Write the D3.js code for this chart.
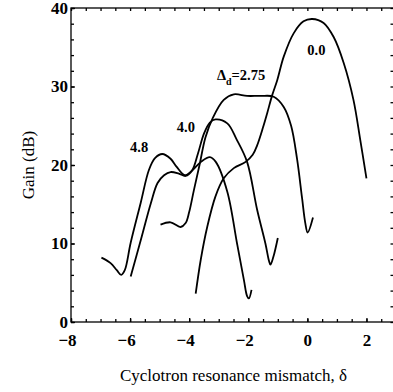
<!DOCTYPE html>
<meta charset="utf-8">
<style>
body { margin: 0; background: #fff; }
svg text { font-family: "Liberation Serif", "Times New Roman", serif; fill: #000; }
.tick text { font-weight: bold; font-size: 17px; }
.tick line, .domain { stroke: #000; stroke-width: 1.3px; }
.curve { fill: none; stroke: #000; stroke-width: 1.8px; }
.clabel { font-weight: bold; font-size: 14.5px; }
</style>
<svg width="393" height="392"></svg>
<script src="https://d3js.org/d3.v7.min.js"></script>
<script>
var svg = d3.select("svg");
var serif = "Liberation Serif, Times New Roman, serif";

// gain vs. mismatch, one array per Delta_d value  [delta, gain]
var curve48 = [[-6.97,8.2],[-6.66,7.5],[-6.45,6.6],[-6.3,6.0],[-6.18,6.6],[-5.98,10.1],[-5.64,15.2],
  [-5.36,19.4],[-5.15,20.9],[-4.91,21.4],[-4.63,20.8],[-4.43,19.8],[-4.15,18.7],[-3.9,19.3],
  [-3.6,20.4],[-3.3,21.0],[-3.1,20.4],[-2.71,16.6],[-2.38,10.0],[-2.15,5.4],[-2.04,3.3],
  [-1.98,3.0],[-1.89,4.1]];
var curve40 = [[-5.98,5.8],[-5.64,10.4],[-5.3,15.1],[-5.07,17.7],[-4.85,18.7],[-4.63,19.1],
  [-4.35,18.9],[-4.12,18.6],[-3.9,19.3],[-3.7,21.5],[-3.5,24.0],[-3.3,25.4],[-3.11,25.8],
  [-2.71,25.3],[-2.4,23.3],[-2.04,20.4],[-1.7,14.3],[-1.42,10.0],[-1.3,7.8],[-1.25,7.3],
  [-1.15,8.3],[-1.0,10.7]];
var curve275 = [[-4.97,12.4],[-4.63,12.7],[-4.29,12.1],[-4.12,12.6],[-4.0,14.0],[-3.84,16.8],
  [-3.65,20.0],[-3.45,23.5],[-3.2,26.0],[-2.83,28.3],[-2.49,29.0],[-2.04,28.8],[-1.59,28.8],
  [-1.14,28.7],[-0.8,27.4],[-0.55,25.0],[-0.35,20.8],[-0.18,15.8],[-0.07,12.6],[0.01,11.4],
  [0.19,13.3]];
var curve00 = [[-3.78,3.6],[-3.61,7.9],[-3.39,12.1],[-3.11,16.0],[-2.83,18.3],[-2.49,19.6],
  [-2.09,20.4],[-1.85,21.3],[-1.7,22.5],[-1.5,24.8],[-1.36,26.6],[-1.19,28.9],[-1.02,30.8],
  [-0.8,33.8],[-0.46,36.8],[-0.13,38.3],[0.16,38.6],[0.55,38.1],[0.89,36.3],[1.23,33.0],
  [1.56,28.3],[1.79,23.2],[2.0,18.3]];

var xTicks = [-8, -6, -4, -2, 0, 2];
var yTicks = [0, 10, 20, 30, 40];
var xMinor = d3.range(-8, 3.01, 0.5);
var yMinor = d3.range(0, 40.01, 2);

// curve labels: text and where it starts (data coords)
var labels = [
  {text: "4.8", x: -6.0, y: 21.7},
  {text: "4.0", x: -4.42, y: 24.2},
  {text: "0.0", x: 0.0, y: 34.0}
];

var x = d3.scaleLinear().domain([-8, 3]).range([71, 396]);
var y = d3.scaleLinear().domain([0, 40]).range([322, 8]);

// frame
svg.append("rect")
  .attr("x", x(-8)).attr("y", y(40))
  .attr("width", x(3) - x(-8)).attr("height", y(0) - y(40))
  .attr("fill", "none").attr("stroke", "#000").attr("stroke-width", 1.3);

// minor ticks on all four sides, pointing in
svg.append("g").attr("transform", "translate(0," + y(0) + ")")
  .call(d3.axisBottom(x).tickValues(xMinor).tickSize(-3).tickFormat(""));
svg.append("g").attr("transform", "translate(0," + y(40) + ")")
  .call(d3.axisTop(x).tickValues(xMinor).tickSize(-3).tickFormat(""));
svg.append("g").attr("transform", "translate(" + x(-8) + ",0)")
  .call(d3.axisLeft(y).tickValues(yMinor).tickSize(-3).tickFormat(""));
svg.append("g").attr("transform", "translate(" + x(3) + ",0)")
  .call(d3.axisRight(y).tickValues(yMinor).tickSize(-5.5).tickFormat(""));

// labelled axes
var xAxis = svg.append("g").attr("transform", "translate(0," + y(0) + ")")
  .call(d3.axisBottom(x).tickValues(xTicks).tickSize(-4).tickPadding(12).tickFormat(d3.format("d")));
xAxis.selectAll(".tick text").attr("dx", function(d) { return d < 0 ? "-4" : "0"; });

var yAxis = svg.append("g").attr("transform", "translate(" + x(-8) + ",0)")
  .call(d3.axisLeft(y).tickValues(yTicks).tickSize(-4).tickPadding(3).tickFormat(d3.format("d")));

xAxis.attr("font-family", serif).attr("font-size", 17);
yAxis.attr("font-family", serif).attr("font-size", 17);
svg.selectAll(".tick text").style("font-family", serif);

svg.selectAll(".domain").remove();

// curves
var line = d3.line()
  .x(function(d) { return x(d[0]); })
  .y(function(d) { return y(d[1]); })
  .curve(d3.curveCatmullRom.alpha(0.5));

svg.append("g").selectAll("path")
  .data([curve48, curve40, curve275, curve00])
  .enter().append("path")
  .attr("class", "curve")
  .attr("d", line);

// labels
svg.selectAll(".clabel")
  .data(labels)
  .enter().append("text")
  .attr("class", "clabel")
  .attr("x", function(d) { return x(d.x); })
  .attr("y", function(d) { return y(d.y); })
  .text(function(d) { return d.text; });

var dl = svg.append("text").attr("class", "clabel")
  .attr("x", x(-3.06)).attr("y", y(30.8));
dl.append("tspan").text("\u0394");
dl.append("tspan").attr("dy", 5).attr("font-size", "10px").text("d");
dl.append("tspan").attr("dy", -5).text("=2.75");

// axis titles
svg.append("text")
  .attr("transform", "translate(34," + (y(20)) + ") rotate(-90)")
  .attr("text-anchor", "middle")
  .attr("font-size", "17px")
  .text("Gain (dB)");

svg.append("text")
  .attr("x", x(-2.5)).attr("y", 381)
  .attr("text-anchor", "middle")
  .attr("font-size", "17px")
  .text("Cyclotron resonance mismatch, \u03b4");
</script>
